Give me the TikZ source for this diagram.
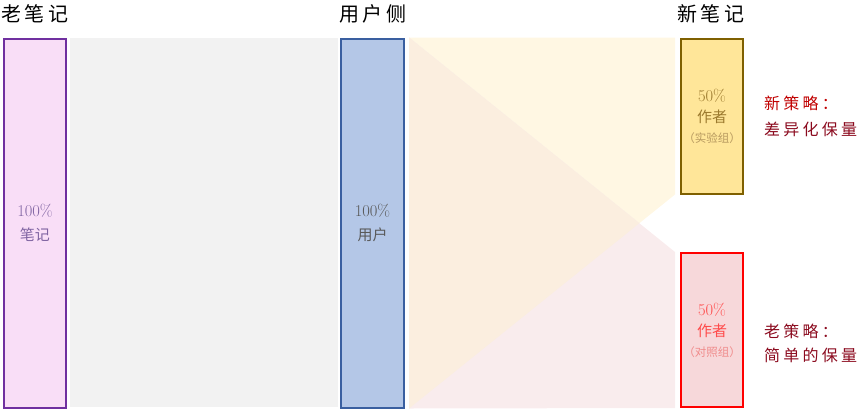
\documentclass[tikz,border=0pt]{standalone}
\usepackage{fontspec}
\newfontfamily\cjk{Noto Sans CJK SC}
\newfontfamily\cjkhead[LetterSpace=16]{Noto Sans CJK SC}
\newfontfamily\cjklab[LetterSpace=20]{Noto Sans CJK SC}
\newcommand\smallcjk{\cjk\fontsize{11.5}{13}\selectfont}
\newcommand\boxcjk{\cjk\fontsize{15}{24}\selectfont}
\definecolor{purpB}{HTML}{7030A0}
\definecolor{purpF}{HTML}{F9DEF7}
\definecolor{purpT}{HTML}{8064A2}
\definecolor{blueB}{HTML}{3A5FA0}
\definecolor{blueF}{HTML}{B4C7E7}
\definecolor{grayT}{HTML}{595959}
\definecolor{bandG}{HTML}{F2F2F2}
\definecolor{yelB}{HTML}{7F6000}
\definecolor{yelF}{HTML}{FFE699}
\definecolor{yelT}{HTML}{9C7A2E}
\definecolor{yelT2}{HTML}{B89A60}
\definecolor{redB}{HTML}{FF0000}
\definecolor{redF}{HTML}{F7D8DA}
\definecolor{redT}{HTML}{FF4B4B}
\definecolor{redT2}{HTML}{F08C8C}
\definecolor{flowY}{HTML}{FFF7E3}
\definecolor{flowP}{HTML}{F9ECED}
\definecolor{flowO}{HTML}{FBEEDF}
\definecolor{labA}{HTML}{C00000}
\definecolor{labB}{HTML}{8B0A1E}
\begin{document}
\begin{tikzpicture}[x=1pt,y=-1pt,
  bar/.style={draw, line width=2pt, inner sep=0pt, align=center, font=\fontsize{16.5}{24}\selectfont},
  head/.style={font=\cjkhead\fontsize{20}{22}\selectfont, text=black, inner sep=0pt},
  lab/.style={font=\cjklab\fontsize{16}{25}\selectfont, align=left, anchor=west, inner sep=0pt}]
\useasboundingbox (0,0) rectangle (867,413);
% gray band
\fill[bandG] (70,38) rectangle (338,407);
% boxes
\node[bar, draw=purpB, fill=purpF, text=purpT, minimum width=62pt, minimum height=369pt] (old) at (35,223)
  {100\%\\{\boxcjk 笔记}};
\node[bar, draw=blueB, fill=blueF, text=grayT, minimum width=63pt, minimum height=369pt] (usr) at (372.5,223)
  {100\%\\{\boxcjk 用户}};
\node[bar, draw=yelB, fill=yelF, text=yelT, minimum width=62pt, minimum height=155pt] (new) at (712,116)
  {50\%\\[-3pt]{\boxcjk 作者}\\[-4pt]{\smallcjk\color{yelT2}（实验组）}};
\node[bar, draw=redB, fill=redF, text=redT, minimum width=62pt, minimum height=154pt] (ctl) at (712,330)
  {50\%\\[-3pt]{\boxcjk 作者}\\[-4pt]{\smallcjk\color{redT2}（对照组）}};
% flows
\coordinate (ut) at ([xshift=4pt]usr.north east);
\coordinate (ub) at ([xshift=4pt]usr.south east);
\coordinate (nt) at ([xshift=-5pt]new.north west);
\coordinate (nb) at ([xshift=-5pt]new.south west);
\coordinate (ct) at ([xshift=-5pt]ctl.north west);
\coordinate (cb) at ([xshift=-5pt]ctl.south west);
\coordinate (x) at (intersection of ut--ct and ub--nb);
\fill[flowY] (ut) -- (nt) -- (nb) -- (ub) -- cycle;
\fill[flowP] (ut) -- (ct) -- (cb) -- (ub) -- cycle;
\fill[flowO] (ut) -- (x) -- (ub) -- cycle;
% headers
\node[head] (h1) at (35,14) {老笔记};
\node[head] (h2) at (373,14) {用户侧};
\node[head] (h3) at (711,14) {新笔记};
% labels
\node[lab, text=labA] (l1) at (764,103) {新策略：};
\node[lab, text=labB] (l2) at (764,129) {差异化保量};
\node[lab, text=labB] (l3) at (764,331) {老策略：};
\node[lab, text=labB] (l4) at (764,355) {简单的保量};
\end{tikzpicture}
\end{document}
